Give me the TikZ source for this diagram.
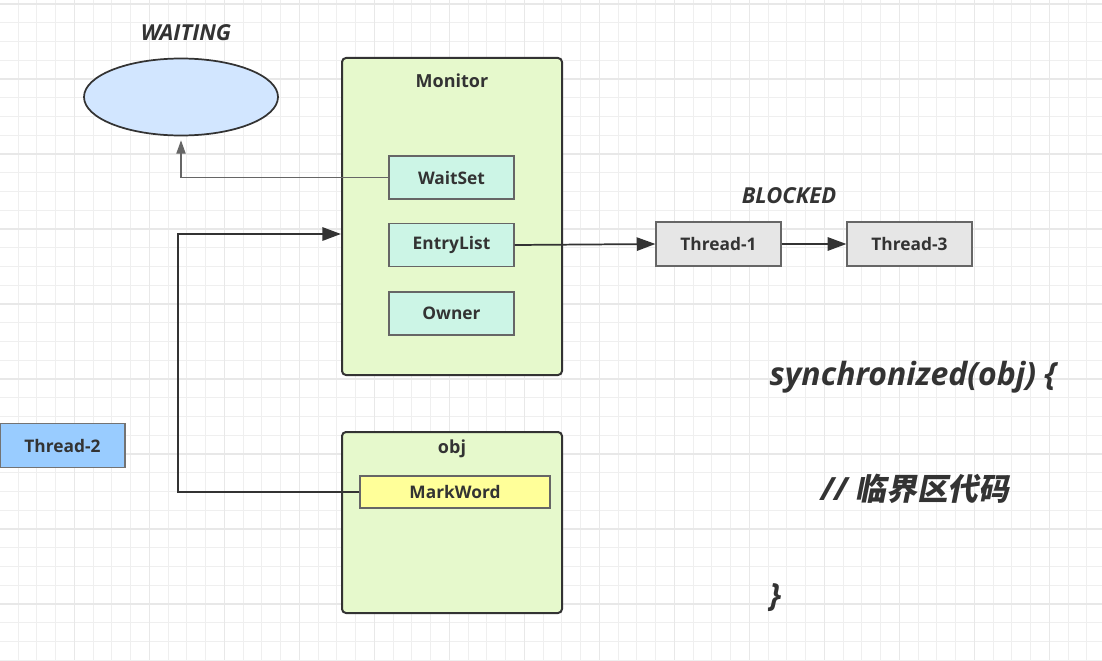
\documentclass[tikz,border=0pt]{standalone}
\usepackage{fontspec}
\setmainfont{Open Sans}
\newfontfamily\cjk[FakeSlant=0.2]{Noto Sans CJK SC}
\usepackage{tikz}
\usetikzlibrary{positioning,shapes.geometric,arrows.meta}
\definecolor{gridminor}{HTML}{EFEFEF}
\definecolor{gridmajor}{HTML}{E8E8E8}
\definecolor{ink}{HTML}{333333}
\definecolor{monitorgreen}{HTML}{E6F9CC}
\definecolor{slotmint}{HTML}{CCF5E6}
\definecolor{waitblue}{HTML}{D2E6FF}
\definecolor{threadgray}{HTML}{E6E6E6}
\definecolor{threadblue}{HTML}{99CCFF}
\definecolor{markyellow}{HTML}{FFFF99}
\tikzstyle{frame} = [draw=ink, fill=monitorgreen, line width=1.5pt,
    rectangle, rounded corners=3pt, minimum width=165pt]
\tikzstyle{frametitle} = [text=ink, font=\fontsize{13.5}{16}\selectfont\bfseries]
\tikzstyle{slot} = [draw=black!60, fill=slotmint, rectangle, line width=0.9pt,
    minimum width=93.75pt, minimum height=32.25pt, text=ink,
    font=\fontsize{13}{15}\selectfont\bfseries]
\tikzstyle{threadbox} = [slot, fill=threadgray, minimum height=33pt]
\tikzstyle{state} = [text=ink, font=\fontsize{16.5}{19}\selectfont\bfseries\itshape]
\tikzstyle{codeline} = [text=ink, anchor=west, font=\fontsize{24}{28}\selectfont\bfseries\itshape]
\tikzstyle{link} = [draw=ink, line width=1.3pt, -{Triangle[length=14pt,width=10pt]}]

\begin{document}
\begin{tikzpicture}[x=0.75pt, y=-0.75pt]
\useasboundingbox (0,0) rectangle (1102,660);
% grid paper
\foreach \x in {0,...,58} \draw[gridminor, line width=0.75pt] (18.05+18.75*\x,0) -- (18.05+18.75*\x,660);
\foreach \y in {0,...,35} \draw[gridminor, line width=0.75pt] (0,4+18.75*\y) -- (1102,4+18.75*\y);
\foreach \x in {0,...,14} \draw[gridmajor, line width=1pt] (74.3+75*\x,0) -- (74.3+75*\x,660);
\foreach \y in {0,...,8} \draw[gridmajor, line width=1pt] (0,4+75*\y) -- (1102,4+75*\y);

\node[ellipse, draw=ink, line width=1.3pt, fill=waitblue, minimum width=145.5pt, minimum height=57.75pt]
    (waiting) at (181,97) {};
\node[state] (waitlabel) at (186,33) {WAITING};

\node[frame, minimum height=237.75pt] (mon) at (452,216.5) {};
\node[frametitle, below=9pt] at (mon.north) {Monitor};
\node[slot] (waitset) at (451.5,177.5) {WaitSet};
\node[slot] (entry) at (451.5,245) {EntryList};
\node[slot] (owner) at (451.5,313.5) {Owner};

\node[frame, minimum height=135.75pt] (obj) at (452,522.5) {};
\node[frametitle, below=3pt] at (obj.north) {obj};
\node[slot, fill=markyellow, minimum width=142.5pt, minimum height=24pt] (markword) at (455,492) {MarkWord};

\node[threadbox] (t1) at (718.5,244) {Thread-1};
\node[threadbox] (t3) at (909.5,244) {Thread-3};
\node[state] (blocklabel) at (789,196) {BLOCKED};

\node[threadbox, fill=threadblue, draw=black!55] (t2) at (62.5,445.5) {Thread-2};

\node[codeline] (syncopen) at (765,377) {synchronized(obj) \{};
\node[codeline] (critical) at (816,489) {// {\cjk\fontsize{23}{28}\selectfont 临界区代码}};
\node[codeline] (syncclose) at (765,598) {\}};

% connectors
\coordinate (bend) at (178,234);
\draw[link, draw=black!60, line width=0.8pt, -{Triangle[length=10pt,width=7pt]}, shorten >=3pt]
    (waitset.west) -| (waiting.south);
\draw[link, line width=1.6pt] (markword.west) -| (bend) -- (mon.west |- bend);
\draw[link] (entry.east) -- (t1.west);
\draw[link] (t1.east) -- (t3.west);
\end{tikzpicture}
\end{document}
